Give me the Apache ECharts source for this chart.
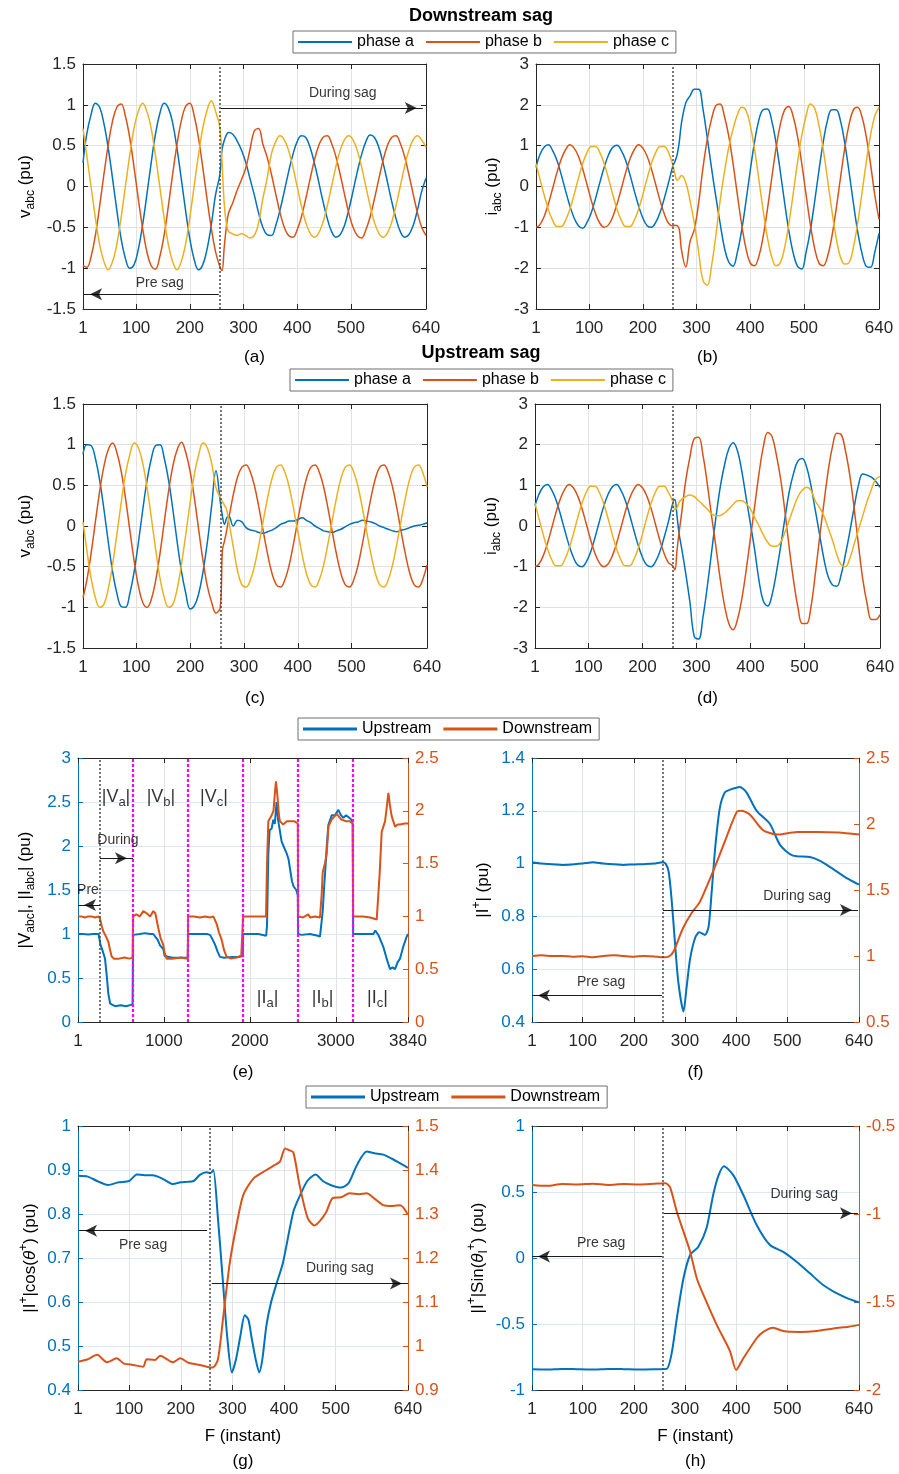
<!DOCTYPE html>
<html><head><meta charset="utf-8">
<script src="https://cdn.jsdelivr.net/npm/echarts/dist/echarts.min.js"></script>
<style>html,body{margin:0;padding:0;background:#fff}#c{width:899px;height:1474px}</style>
</head><body><div id="c"></div>
<script>
// ---------------- DATA ----------------
// sample instants shared by the phase waveforms (a)-(d)
const WX = [1,8,16,24,32,40,48,56,64,72,80,88,96,104,112,120,128,136,144,152,160,168,176,184,192,200,208,216,224,232,240,248,256,260,264,268,272,280,288,296,304,312,320,328,336,344,352,360,368,376,384,392,400,408,416,424,432,440,448,456,464,472,480,488,496,504,512,520,528,536,544,552,560,568,576,584,592,600,608,616,624,632,640];

// (a) downstream sag voltages
const aVa = [0.29,0.64,0.88,1.02,0.97,0.77,0.47,0.10,-0.29,-0.64,-0.88,-1.00,-0.96,-0.77,-0.47,-0.10,
0.29,0.64,0.89,1.02,0.96,0.78,0.47,0.10,-0.29,-0.64,-0.89,-1.02,-0.96,-0.77,-0.47,-0.10,
0.15,0.45,0.56,0.63,
0.66,0.64,0.56,0.45,0.30,0.10,-0.10,-0.32,-0.50,-0.59,-0.60,-0.48,-0.29,
-0.06,0.18,0.39,0.55,0.62,0.60,0.48,0.29,0.06,-0.18,-0.39,-0.55,-0.62,-0.59,-0.48,-0.29,
-0.06,0.18,0.39,0.55,0.63,0.60,0.48,0.29,0.06,-0.18,-0.39,-0.55,-0.62,-0.59,-0.48,-0.29,
-0.06,0.10];
const aVb = [-0.97,-0.99,-0.86,-0.60,-0.24,0.15,0.51,0.80,0.97,1.01,0.86,0.60,0.24,-0.15,-0.51,-0.80,
-0.97,-1.01,-0.86,-0.60,-0.24,0.15,0.51,0.80,0.98,1.02,0.87,0.60,0.24,-0.15,-0.51,-0.80,
-0.98,-1.03,-0.75,-0.50,
-0.33,-0.20,-0.05,0.08,0.22,0.45,0.68,0.71,0.52,0.36,0.15,-0.09,-0.32,
-0.50,-0.60,-0.62,-0.53,-0.37,-0.15,0.09,0.32,0.50,0.60,0.62,0.53,0.37,0.15,-0.09,-0.32,
-0.50,-0.60,-0.63,-0.53,-0.37,-0.15,0.09,0.32,0.50,0.60,0.62,0.53,0.37,0.15,-0.09,-0.32,
-0.50,-0.60];
const aVc = [0.71,0.38,0.00,-0.38,-0.71,-0.92,-1.02,-0.92,-0.71,-0.38,0.00,0.38,0.71,0.92,1.02,0.92,
0.71,0.38,0.00,-0.38,-0.71,-0.92,-1.02,-0.92,-0.71,-0.38,0.00,0.38,0.71,0.93,1.05,0.92,
0.72,0.30,-0.20,-0.45,
-0.55,-0.58,-0.60,-0.58,-0.60,-0.63,-0.60,-0.45,-0.15,0.10,0.40,0.55,0.62,
0.57,0.44,0.24,0.00,-0.24,-0.44,-0.57,-0.62,-0.57,-0.44,-0.24,0.00,0.24,0.44,0.57,0.62,
0.57,0.44,0.24,0.00,-0.24,-0.44,-0.57,-0.62,-0.57,-0.44,-0.24,0.00,0.24,0.44,0.57,0.62,
0.57,0.48];

// (b) downstream sag currents
const bIa = [0.47,0.77,0.96,1.02,0.88,0.64,0.29,-0.10,-0.47,-0.77,-0.96,-1.02,-0.88,-0.64,-0.29,0.10,
0.47,0.77,0.96,1.01,0.88,0.64,0.29,-0.10,-0.47,-0.77,-0.96,-1.00,-0.88,-0.64,-0.29,0.10,
0.50,0.62,0.78,1.10,
1.55,2.05,2.22,2.38,2.38,1.90,1.20,0.45,-0.25,-0.90,-1.50,-1.85,-1.95,
-1.62,-1.08,-0.38,0.38,1.08,1.62,1.88,1.90,1.62,1.08,0.38,-0.38,-1.08,-1.62,-1.95,-2.02,
-1.62,-1.08,-0.38,0.38,1.08,1.62,1.88,1.88,1.62,1.08,0.38,-0.38,-1.08,-1.62,-1.95,-1.98,
-1.62,-1.15];
const bIb = [-1.00,-0.94,-0.74,-0.43,-0.05,0.34,0.67,0.90,1.02,0.94,0.74,0.43,0.05,-0.34,-0.67,-0.90,
-1.00,-0.94,-0.74,-0.43,-0.05,0.34,0.67,0.90,1.02,0.94,0.74,0.43,0.05,-0.34,-0.67,-0.90,
-0.97,-0.95,-0.96,-1.05,
-1.55,-1.97,-1.35,-1.05,-0.40,0.45,1.15,1.65,1.98,2.02,1.72,1.24,0.57,
-0.19,-0.92,-1.51,-1.87,-1.94,-1.72,-1.24,-0.57,0.19,0.92,1.51,1.87,1.96,1.72,1.24,0.57,
-0.19,-0.92,-1.51,-1.87,-1.94,-1.72,-1.24,-0.57,0.19,0.92,1.51,1.87,1.94,1.72,1.24,0.57,
-0.19,-0.80];
const bIc = [0.56,0.20,-0.20,-0.56,-0.83,-0.98,-0.98,-0.83,-0.56,-0.20,0.20,0.56,0.83,0.98,0.98,0.83,
0.56,0.20,-0.20,-0.56,-0.83,-0.98,-0.98,-0.83,-0.56,-0.20,0.20,0.56,0.83,0.98,0.98,0.83,
0.52,0.30,0.15,0.20,
0.27,0.10,-0.35,-0.90,-1.60,-2.30,-2.42,-1.95,-1.20,-0.35,0.35,0.95,1.40,
1.75,1.94,1.87,1.51,0.92,0.19,-0.57,-1.24,-1.72,-1.94,-1.87,-1.51,-0.92,-0.19,0.57,1.24,
1.72,2.02,1.92,1.51,0.92,0.19,-0.57,-1.24,-1.72,-1.90,-1.87,-1.51,-0.92,-0.19,0.57,1.24,
1.72,1.94];

// (c) upstream sag voltages
const cVa = [0.88,1.00,0.99,0.83,0.56,0.20,-0.20,-0.56,-0.83,-0.99,-1.00,-0.83,-0.56,-0.20,0.20,0.56,
0.83,0.99,1.00,0.83,0.56,0.20,-0.20,-0.56,-0.83,-1.02,-0.98,-0.83,-0.56,-0.20,0.25,0.68,
0.30,0.12,0.02,0.10,
0.12,0.00,0.07,0.05,-0.02,-0.05,-0.06,-0.08,-0.09,-0.07,-0.05,-0.02,0.02,0.04,0.06,0.06,
0.08,0.10,0.07,0.04,0.00,-0.03,-0.06,-0.07,-0.08,-0.06,-0.04,-0.01,0.02,0.04,0.05,0.07,
0.06,0.05,0.03,0.00,-0.02,-0.04,-0.06,-0.07,-0.05,-0.04,-0.02,0.00,0.01,0.02,0.04];
const cVb = [-0.88,-0.67,-0.34,0.05,0.43,0.74,0.94,1.02,0.90,0.67,0.34,-0.05,-0.43,-0.74,-0.94,-1.00,
-0.90,-0.67,-0.34,0.05,0.43,0.74,0.94,1.03,0.90,0.67,0.34,-0.05,-0.43,-0.74,-0.94,-1.07,
-1.00,-0.30,-0.18,-0.05,
0.10,0.38,0.60,0.72,
0.75,0.66,0.48,0.22,-0.07,-0.35,-0.58,-0.72,-0.75,-0.66,-0.48,-0.22,0.07,0.35,0.58,0.72,
0.75,0.66,0.48,0.22,-0.07,-0.35,-0.58,-0.72,-0.75,-0.66,-0.48,-0.22,0.07,0.35,0.58,0.72,
0.75,0.66,0.48,0.22,-0.07,-0.35,-0.58,-0.72,-0.75,-0.66,-0.48];
const cVc = [0.05,-0.29,-0.64,-0.88,-1.00,-0.96,-0.77,-0.47,-0.10,0.29,0.64,0.88,1.02,0.96,0.77,0.47,
0.10,-0.29,-0.64,-0.88,-1.00,-0.96,-0.77,-0.47,-0.10,0.29,0.64,0.88,1.02,0.96,0.77,0.47,
0.35,0.30,0.25,0.20,
0.05,-0.25,-0.55,-0.72,
-0.75,-0.66,-0.48,-0.22,0.07,0.35,0.58,0.72,0.75,0.66,0.48,0.22,-0.07,-0.35,-0.58,-0.72,
-0.75,-0.66,-0.48,-0.22,0.07,0.35,0.58,0.72,0.75,0.66,0.48,0.22,-0.07,-0.35,-0.58,-0.72,
-0.75,-0.66,-0.48,-0.22,0.07,0.35,0.58,0.72,0.75,0.66,0.48];

// (d) upstream sag currents
const dIa = [0.50,0.77,0.96,1.02,0.88,0.64,0.29,-0.10,-0.47,-0.77,-0.96,-1.00,-0.88,-0.64,-0.29,0.10,
0.47,0.77,0.96,1.02,0.88,0.64,0.29,-0.10,-0.47,-0.77,-0.96,-1.00,-0.88,-0.64,-0.29,0.10,
0.55,0.65,0.25,-0.20,
-0.50,-1.15,-1.88,-2.72,-2.78,-2.25,-1.50,-0.65,0.20,0.95,1.50,1.90,2.05,1.85,1.35,0.70,
0.05,-0.60,-1.35,-1.85,-1.97,-1.70,-1.15,-0.50,0.20,0.85,1.30,1.60,1.66,1.45,1.00,0.40,
-0.20,-0.80,-1.25,-1.45,-1.48,-1.20,-0.70,-0.15,0.45,1.00,1.28,1.25,1.20,1.10,0.95];
const dIb = [-1.00,-0.94,-0.74,-0.43,-0.05,0.34,0.67,0.90,1.02,0.94,0.74,0.43,0.05,-0.34,-0.67,-0.90,
-1.00,-0.94,-0.74,-0.43,-0.05,0.34,0.67,0.90,1.02,0.94,0.74,0.43,0.05,-0.34,-0.67,-0.90,
-0.98,-1.08,-0.60,-0.15,
0.25,1.10,1.70,2.15,2.18,1.75,1.05,0.25,-0.50,-1.30,-1.95,-2.40,-2.55,-2.30,-1.80,-1.10,
-0.30,0.50,1.30,1.95,2.30,2.20,1.75,1.15,0.35,-0.55,-1.35,-2.00,-2.40,-2.40,-2.00,-1.20,
-0.30,0.55,1.35,1.95,2.28,2.25,1.85,1.25,0.45,-0.45,-1.30,-1.90,-2.30,-2.30,-2.18];
const dIc = [0.56,0.20,-0.20,-0.56,-0.83,-0.98,-0.98,-0.83,-0.56,-0.20,0.20,0.56,0.83,0.98,0.98,0.83,
0.56,0.20,-0.20,-0.56,-0.83,-0.98,-0.98,-0.83,-0.56,-0.20,0.20,0.56,0.83,0.98,0.98,0.83,
0.60,0.40,0.45,0.58,
0.65,0.72,0.76,0.72,0.62,0.52,0.42,0.30,0.25,0.26,0.32,0.42,0.53,0.62,0.62,0.55,
0.42,0.20,0.00,-0.22,-0.40,-0.50,-0.50,-0.40,-0.15,0.15,0.45,0.72,0.88,0.95,0.88,0.62,
0.45,0.25,-0.05,-0.35,-0.70,-0.95,-1.00,-0.80,-0.45,-0.10,0.25,0.60,0.90,1.15,1.22];

// (e) magnitudes, six concatenated windows |Va| |Vb| |Vc| |Ia| |Ib| |Ic|
const eUpX = [1,60,120,180,240,256,262,277,300,315,335,354,375,393,431,500,560,600,636,
642,660,720,780,840,877,900,930,955,993,1010,1032,1100,1200,1278,
1282,1350,1420,1500,1537,1560,1595,1625,1653,1700,1800,1880,1918,
1922,2000,2100,2190,2200,2215,2230,2254,2273,2290,2311,2328,2345,2370,2400,2427,2450,2466,2490,2510,2540,2558,
2562,2600,2700,2790,2816,2835,2848,2862,2874,2895,2914,2953,2990,3030,3060,3088,3120,3146,3180,3197,
3202,3300,3400,3437,3460,3476,3500,3515,3554,3592,3631,3660,3689,3720,3747,3786,3825,3840];
const eUpY = [1.0,1.0,0.995,1.0,1.0,1.0,0.88,0.84,0.77,0.72,0.53,0.32,0.21,0.2,0.18,0.19,0.18,0.19,0.2,
0.99,1.0,1.0,1.01,1.0,1.0,0.98,0.93,0.87,0.83,0.75,0.73,0.73,0.73,0.73,
1.0,1.0,1.0,1.0,0.99,0.95,0.88,0.8,0.74,0.73,0.74,0.74,0.75,
1.0,1.0,1.0,0.98,1.1,1.9,2.18,2.2,2.3,2.25,2.5,2.3,2.2,2.05,1.98,1.92,1.85,1.75,1.6,1.54,1.5,1.44,
1.0,0.99,1.0,0.98,0.97,0.95,1.26,1.5,1.67,2.0,2.24,2.35,2.35,2.41,2.35,2.32,2.35,2.33,2.3,2.25,
1.0,1.0,1.0,1.0,1.04,1.05,0.98,0.96,0.85,0.72,0.6,0.62,0.6,0.68,0.72,0.86,0.97,1.0];
const eDnX = [1,40,80,120,160,200,240,256,280,295,320,354,375,393,420,480,540,600,636,
642,680,720,760,800,840,877,900,935,960,993,1010,1032,1100,1200,1278,
1282,1350,1420,1480,1540,1575,1614,1640,1672,1700,1730,1780,1850,1900,1918,
1922,2000,2100,2188,2200,2215,2250,2275,2295,2304,2320,2340,2351,2388,2430,2466,2520,2558,
2562,2620,2680,2700,2760,2816,2835,2848,2874,2895,2914,2953,3011,3060,3120,3165,3197,
3202,3260,3320,3400,3440,3476,3495,3510,3534,3573,3595,3612,3630,3650,3689,3720,3747,3800,3840];
const eDnY = [1.0,1.0,0.99,1.0,1.0,0.99,1.0,0.98,0.9,0.86,0.82,0.76,0.68,0.62,0.6,0.6,0.61,0.6,0.61,
1.0,1.02,1.0,1.05,1.03,1.0,1.05,1.03,0.89,0.8,0.73,0.65,0.6,0.6,0.61,0.6,
1.0,1.0,0.99,1.0,0.99,1.0,0.93,0.85,0.78,0.68,0.62,0.6,0.61,0.63,0.63,
1.0,1.0,1.0,1.0,1.5,1.9,1.95,2.0,2.2,2.28,2.15,1.95,1.9,1.87,1.9,1.9,1.9,1.88,
1.0,0.99,1.02,0.99,1.0,0.99,1.2,1.42,1.5,1.6,1.85,1.92,1.97,1.92,1.9,1.9,1.88,
1.0,1.0,1.0,0.99,0.98,0.97,0.98,1.4,1.8,1.9,2.05,2.17,2.05,1.95,1.85,1.87,1.87,1.88,1.88];

// (f) |I+|
const fUpX = [1,20,40,60,80,100,120,140,160,180,200,220,240,256,262,268,274,280,287,297,303,310,320,328,339,346,352,359,368,378,388,407,420,440,466,486,511,544,564,589,616,640];
const fUpY = [1.005,1.0,0.998,0.995,0.997,1.0,1.005,1.0,0.998,0.995,0.997,0.998,1.0,1.005,1.0,0.97,0.86,0.71,0.55,0.44,0.53,0.64,0.72,0.74,0.73,0.76,0.89,1.06,1.21,1.27,1.28,1.29,1.27,1.2,1.15,1.07,1.03,1.025,1.01,0.98,0.945,0.92];
const fDnX = [1,20,40,60,80,100,120,140,160,180,200,220,240,256,268,277,296,312,329,345,362,380,401,410,427,452,480,500,520,558,600,640];
const fDnY = [1.0,1.005,1.0,1.0,0.995,0.998,0.99,1.0,1.005,1.0,0.995,1.0,0.997,0.99,0.995,1.03,1.21,1.32,1.41,1.55,1.71,1.89,2.09,2.1,2.07,1.955,1.92,1.93,1.94,1.94,1.935,1.92];

// (g) |I+|cos(theta+)
const gUpX = [1,20,38,59,80,100,115,130,146,165,185,200,212,225,237,250,258,263,272,282,290,299,307,315,324,331,337,345,352,358,366,375,385,398,418,432,445,461,475,490,510,525,541,560,575,592,610,625,640];
const gUpY = [0.887,0.885,0.875,0.866,0.872,0.875,0.89,0.888,0.888,0.88,0.868,0.872,0.873,0.875,0.889,0.895,0.893,0.9,0.79,0.64,0.52,0.44,0.47,0.52,0.57,0.56,0.52,0.47,0.44,0.47,0.548,0.6,0.64,0.69,0.805,0.845,0.875,0.89,0.875,0.866,0.86,0.87,0.911,0.942,0.938,0.935,0.925,0.915,0.905];
const gDnX = [1,20,38,57,76,90,108,127,134,150,160,185,199,215,237,250,262,272,282,295,308,321,341,366,380,392,402,410,418,430,446,459,470,482,494,510,527,545,560,575,592,610,625,640];
const gDnY = [0.964,0.97,0.98,0.963,0.972,0.96,0.957,0.953,0.97,0.968,0.978,0.963,0.972,0.962,0.957,0.953,0.951,0.97,1.064,1.19,1.275,1.343,1.381,1.40,1.41,1.419,1.449,1.445,1.44,1.366,1.29,1.274,1.285,1.305,1.336,1.338,1.347,1.345,1.347,1.335,1.32,1.318,1.32,1.298];

// (h) |I+|sin(theta+)
const hUpX = [1,30,60,90,120,150,180,210,240,264,274,284,297,310,326,342,355,365,376,394,414,440,466,492,518,544,570,596,620,640];
const hUpY = [-0.843,-0.845,-0.84,-0.843,-0.845,-0.84,-0.842,-0.845,-0.843,-0.84,-0.72,-0.457,-0.154,0.023,0.085,0.225,0.477,0.62,0.695,0.63,0.477,0.25,0.098,0.047,-0.028,-0.116,-0.205,-0.267,-0.31,-0.336];
const hDnX = [1,30,60,90,120,150,180,210,240,262,271,284,297,310,323,336,362,388,400,414,440,453,472,492,524,557,590,620,640];
const hDnY = [-0.835,-0.84,-0.83,-0.832,-0.828,-0.835,-0.83,-0.832,-0.828,-0.825,-0.85,-0.987,-1.1,-1.214,-1.365,-1.46,-1.63,-1.78,-1.886,-1.82,-1.706,-1.67,-1.646,-1.665,-1.67,-1.665,-1.65,-1.64,-1.63];

// ticks, events, labels
const TICKS_640 = [1,100,200,300,400,500,640];
const TICKS_3840 = [1,1000,2000,3000,3840];
const SAG_START = 256;
const WINDOW_BOUNDS = [640,1280,1920,2560,3200];
const PHASES = ['phase a','phase b','phase c'];
const LOCATIONS = ['Upstream','Downstream'];

// annotation arrows [fromX, toX, y] and texts [x, y, text]
const aArrows = [[258,634,0.96],[254,3,-1.32]];
const aTexts  = [[485,1.14,'During sag'],[144,-1.18,'Pre sag']];
const eArrows = [[257,641,1.86],[257,1,1.33]];
const eTexts  = [[466,2.07,'During'],[117,1.5,'Pre']];
const eWinLabels = [[443,2.56,'V','a'],[966,2.56,'V','b'],[1583,2.56,'V','c'],[2206,0.27,'I','a'],[2846,0.27,'I','b'],[3485,0.27,'I','c']];
const fArrows = [[255,1,0.5],[257,638,0.824]];
const fTexts  = [[136,0.55,'Pre sag'],[519,0.877,'During sag']];
const gArrows = [[251,3,0.762],[260,640,0.642]];
const gTexts  = [[127,0.73,'Pre sag'],[508,0.677,'During sag']];
const hArrows = [[255,1,0.011],[259,638,0.339]];
const hTexts  = [[136,0.114,'Pre sag'],[533,0.485,'During sag']];

// ---------------- BUILD ----------------
const FONT = "'Liberation Sans', Arial, Helvetica, sans-serif";
const BLUE='#0072BD', ORANGE='#D95319', YELLOW='#EDB120', INK='#262626';
const GRAY_GRID='#e2e2e2', BLUE_GRID='#dae9f5';
const RICH = {
  m:{fontSize:17,fontFamily:FONT,color:'#000',lineHeight:24,verticalAlign:'middle'},
  t:{fontSize:17,fontFamily:FONT,color:'#000',lineHeight:24,verticalAlign:'middle',fontStyle:'italic'},
  s:{fontSize:12,fontFamily:FONT,color:'#000',lineHeight:12,verticalAlign:'bottom'},
  p:{fontSize:12,fontFamily:FONT,color:'#000',lineHeight:12,verticalAlign:'top'}
};
const plain = v => String(v);
const zip=(xs,ys)=>xs.map((x,i)=>[x,ys[i]]);
const grids=[], xAxis=[], yAxis=[], series=[];

function panel(o){
  const gi=grids.length;
  grids.push({left:o.box[0],top:o.box[1],width:o.box[2],height:o.box[3],outerBoundsMode:'none',containLabel:false});
  const xi=xAxis.length;
  const base={type:'value',gridIndex:gi,min:o.x[0],max:o.x[1]};
  xAxis.push(Object.assign({},base,{position:'bottom',
    axisLine:{show:true,onZero:false,lineStyle:{color:INK,width:1}},
    axisTick:{show:true,inside:true,length:5,customValues:o.xt,lineStyle:{color:INK}},
    axisLabel:{show:true,customValues:o.xt,color:INK,fontSize:17,fontFamily:FONT,margin:11,formatter:plain},
    splitLine:{show:true,lineStyle:{color:GRAY_GRID,width:1}},
    name:o.xName,nameLocation:'middle',nameGap:o.xGap,
    nameTextStyle:{color:'#000',fontSize:17,fontFamily:FONT,lineHeight:25}}));
  xAxis.push(Object.assign({},base,{position:'top',
    axisLine:{show:true,onZero:false,lineStyle:{color:INK,width:1}},
    axisTick:{show:true,inside:true,length:5,customValues:o.xt,lineStyle:{color:INK}},
    axisLabel:{show:false},splitLine:{show:false}}));
  const yi=yAxis.length;
  const lc=o.dual?BLUE:INK;
  yAxis.push({type:'value',gridIndex:gi,min:o.y[0],max:o.y[1],interval:o.y[2],position:'left',
    axisLine:{show:true,onZero:false,lineStyle:{color:lc,width:1}},
    axisTick:{show:true,inside:true,length:5,lineStyle:{color:lc}},
    axisLabel:{color:lc,fontSize:17,fontFamily:FONT,margin:7},
    splitLine:{show:true,lineStyle:{color:o.dual?BLUE_GRID:GRAY_GRID,width:1}},
    name:o.yName,nameLocation:'middle',nameRotate:90,nameGap:o.yGap,
    nameTextStyle:{color:'#000',fontFamily:FONT,fontSize:17,rich:RICH}});
  if(o.dual){
    yAxis.push({type:'value',gridIndex:gi,min:o.y2[0],max:o.y2[1],interval:o.y2[2],position:'right',
      axisLine:{show:true,onZero:false,lineStyle:{color:ORANGE,width:1}},
      axisTick:{show:true,inside:true,length:5,lineStyle:{color:ORANGE}},
      axisLabel:{color:ORANGE,fontSize:17,fontFamily:FONT,margin:7},
      splitLine:{show:false}});
  } else {
    yAxis.push({type:'value',gridIndex:gi,min:o.y[0],max:o.y[1],interval:o.y[2],position:'right',
      axisLine:{show:true,onZero:false,lineStyle:{color:INK,width:1}},
      axisTick:{show:true,inside:true,length:5,lineStyle:{color:INK}},
      axisLabel:{show:false},splitLine:{show:false}});
  }
  return {xi,yl:yi,yr:yi+1};
}
function addLine(p,name,xs,ys,color,width,right,smooth){
  series.push({type:'line',name,xAxisIndex:p.xi,yAxisIndex:right?p.yr:p.yl,data:zip(xs,ys),
    symbol:'none',showSymbol:false,smooth:smooth,lineStyle:{color,width},itemStyle:{color},silent:true});
}
function vLines(p,extra){
  const d=[{xAxis:SAG_START,lineStyle:{color:'#4a4a4a',type:[2,2],width:1.5}}];
  (extra||[]).forEach(x=>d.push({xAxis:x,lineStyle:{color:'#FF00FF',type:[3,2],width:2.2}}));
  series.push({type:'line',xAxisIndex:p.xi,yAxisIndex:p.yl,data:[],silent:true,z:5,
    markLine:{silent:true,symbol:'none',label:{show:false},animation:false,data:d}});
}
function annot(p,arrows,texts,rich){
  if(arrows.length){
    series.push({type:'line',xAxisIndex:p.xi,yAxisIndex:p.yl,data:[],silent:true,z:6,
      markLine:{silent:true,symbol:'none',label:{show:false},animation:false,
        lineStyle:{color:'#1a1a1a',width:1,type:'solid'},
        data:arrows.map(a=>[{coord:[a[0],a[2]]},{coord:[a[1],a[2]]}])}});
    // arrow heads at the tips
    series.push({type:'scatter',xAxisIndex:p.xi,yAxisIndex:p.yl,silent:true,z:7,symbol:'arrow',symbolSize:[9,12],
      itemStyle:{color:'#000'},
      data:arrows.map(a=>{const r=a[1]>a[0];return {value:[a[1],a[2]],symbolRotate:r?-90:90,symbolOffset:[r?-6:6,0]};})});
  }
  series.push({type:'scatter',xAxisIndex:p.xi,yAxisIndex:p.yl,silent:true,z:7,symbolSize:1,
    itemStyle:{color:'rgba(0,0,0,0)'},
    label:{show:true,position:'inside',color:'#000',fontSize:14,fontFamily:FONT,rich:rich||{}},
    data:texts.map(t=>({value:[t[0],t[1]],label:{formatter:t[2]}}))});
}

// Row 1
const pA=panel({box:[83,64,343,245],x:[1,640],xt:TICKS_640,y:[-1.5,1.5,0.5],xName:'(a)',xGap:36,yName:'{m|v}{s|abc}{m| (pu)}',yGap:46});
[aVa,aVb,aVc].forEach((v,i)=>addLine(pA,PHASES[i],WX,v,[BLUE,ORANGE,YELLOW][i],1.5,false,0.4));
vLines(pA); annot(pA,aArrows,aTexts);
const pB=panel({box:[536,64,343,245],x:[1,640],xt:TICKS_640,y:[-3,3,1],xName:'(b)',xGap:36,yName:'{m|i}{s|abc}{m| (pu)}',yGap:32});
[bIa,bIb,bIc].forEach((v,i)=>addLine(pB,PHASES[i],WX,v,[BLUE,ORANGE,YELLOW][i],1.5,false,0.4));
vLines(pB);
// Row 2
const pC=panel({box:[83,404,344,244],x:[1,640],xt:TICKS_640,y:[-1.5,1.5,0.5],xName:'(c)',xGap:38,yName:'{m|v}{s|abc}{m| (pu)}',yGap:46});
[cVa,cVb,cVc].forEach((v,i)=>addLine(pC,PHASES[i],WX,v,[BLUE,ORANGE,YELLOW][i],1.5,false,0.4));
vLines(pC);
const pD=panel({box:[535,404,345,244],x:[1,640],xt:TICKS_640,y:[-3,3,1],xName:'(d)',xGap:38,yName:'{m|i}{s|abc}{m| (pu)}',yGap:32});
[dIa,dIb,dIc].forEach((v,i)=>addLine(pD,PHASES[i],WX,v,[BLUE,ORANGE,YELLOW][i],1.5,false,0.4));
vLines(pD);
// Row 3
const pE=panel({box:[78,758,330,264],x:[1,3840],xt:TICKS_3840,y:[0,3,0.5],y2:[0,2.5,0.5],dual:true,xName:'(e)',xGap:38,
  yName:'{m||V}{s|abc}{m||, |I}{s|abc}{m|| (pu)}',yGap:41});
addLine(pE,LOCATIONS[0],eUpX,eUpY,BLUE,2,false,false);
addLine(pE,LOCATIONS[1],eDnX,eDnY,ORANGE,2,true,false);
vLines(pE,WINDOW_BOUNDS);
annot(pE,eArrows,eTexts);
annot(pE,[],eWinLabels.map(w=>[w[0],w[1],'{M||'+w[2]+'}{S|'+w[3]+'}{M||}']),
  {M:{fontSize:18,fontFamily:FONT,color:'#000',lineHeight:24,verticalAlign:'middle'},
   S:{fontSize:13,fontFamily:FONT,color:'#000',lineHeight:13,verticalAlign:'bottom'}});
const pF=panel({box:[532,758,327,264],x:[1,640],xt:TICKS_640,y:[0.4,1.4,0.2],y2:[0.5,2.5,0.5],dual:true,xName:'(f)',xGap:38,
  yName:'{m||I}{p|+}{m|| (pu)}',yGap:37});
addLine(pF,LOCATIONS[0],fUpX,fUpY,BLUE,2,false,0.25);
addLine(pF,LOCATIONS[1],fDnX,fDnY,ORANGE,2,true,0.25);
vLines(pF); annot(pF,fArrows,fTexts);
// Row 4
const pG=panel({box:[78,1126,330,264],x:[1,640],xt:TICKS_640,y:[0.4,1.0,0.1],y2:[0.9,1.5,0.1],dual:true,xName:'F (instant)\n(g)',xGap:34,
  yName:'{m||I}{p|+}{m||cos(}{t|θ}{p|+}{m|) (pu)}',yGap:36});
addLine(pG,LOCATIONS[0],gUpX,gUpY,BLUE,2,false,0.25);
addLine(pG,LOCATIONS[1],gDnX,gDnY,ORANGE,2,true,0.25);
vLines(pG); annot(pG,gArrows,gTexts);
const pH=panel({box:[532,1126,327,264],x:[1,640],xt:TICKS_640,y:[-1,1,0.5],y2:[-2,-0.5,0.5],dual:true,xName:'F (instant)\n(h)',xGap:34,
  yName:'{m||I}{p|+}{m||Sin(}{t|θ}{s|I}{p|+}{m|) (pu)}',yGap:42});
addLine(pH,LOCATIONS[0],hUpX,hUpY,BLUE,2,false,0.25);
addLine(pH,LOCATIONS[1],hDnX,hDnY,ORANGE,2,true,0.25);
vLines(pH); annot(pH,hArrows,hTexts);

function legend(names,left,top,h){
  return {data:names,left,top,orient:'horizontal',icon:'rect',itemWidth:54,itemHeight:h,itemGap:12,
    selectedMode:false,padding:[3,7,3,5],borderColor:'#6e6e6e',borderWidth:1,backgroundColor:'#fff',
    textStyle:{fontSize:16,color:'#000',fontFamily:FONT}};
}
const titleStyle={fontSize:18,fontWeight:'bold',color:'#000',fontFamily:FONT};
const option={
  animation:false,
  backgroundColor:'#fff',
  textStyle:{fontFamily:FONT},
  title:[{text:'Downstream sag',left:481,top:7,textAlign:'center',padding:0,textStyle:titleStyle},
         {text:'Upstream sag',left:481,top:344,textAlign:'center',padding:0,textStyle:titleStyle}],
  legend:[legend(PHASES,293,31,2),legend(PHASES,290,369,2),legend(LOCATIONS,298,718,3),legend(LOCATIONS,306,1086,3)],
  grid:grids, xAxis, yAxis, series
};
const chart=echarts.init(document.getElementById('c'),null,{renderer:'canvas'});
chart.setOption(option);
</script></body></html>
